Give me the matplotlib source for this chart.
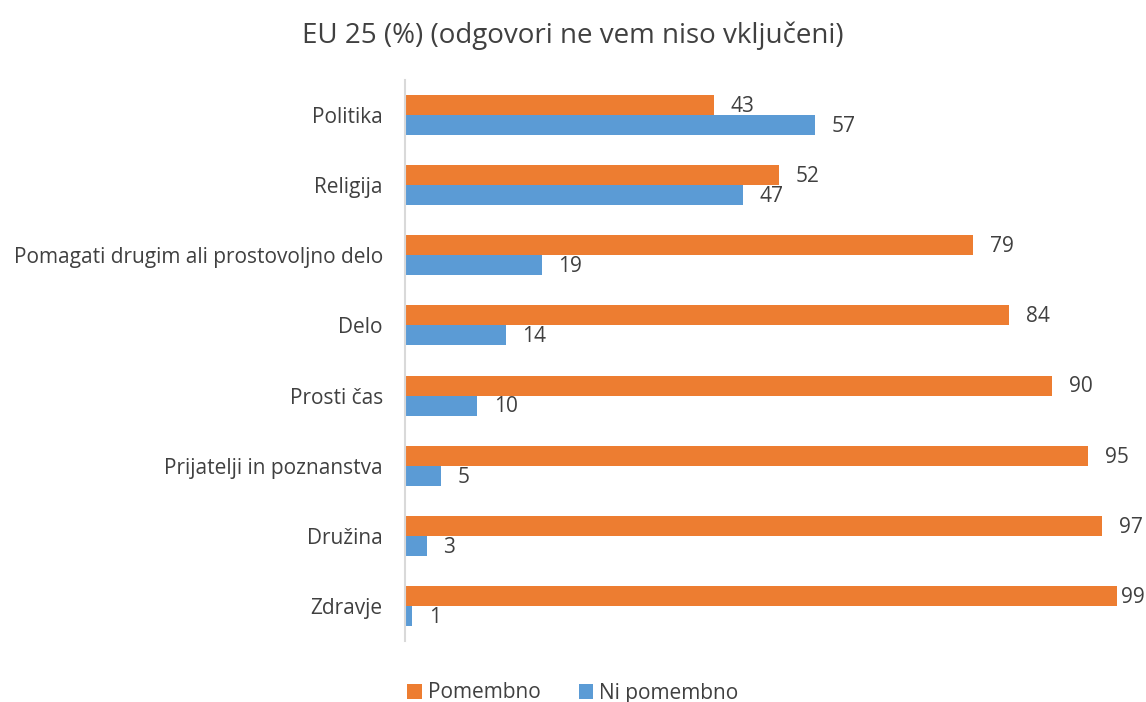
import matplotlib.pyplot as plt
import numpy as np

plt.rcParams['font.family'] = ['Open Sans', 'DejaVu Sans']

categories = ["Politika", "Religija", "Pomagati drugim ali prostovoljno delo", "Delo",
              "Prosti čas", "Prijatelji in poznanstva", "Družina", "Zdravje"]
pomembno = [43, 52, 79, 84, 90, 95, 97, 99]
ni_pomembno = [57, 47, 19, 14, 10, 5, 3, 1]

orange = "#ED7D31"
blue = "#5B9BD5"
text_c = "#404040"

fig = plt.figure(figsize=(11.46, 7.02), dpi=100)
ax = fig.add_axes([405 / 1146, 1 - 641 / 702, (1124 - 405) / 1146, (641 - 80) / 702])

y = np.arange(len(categories))
h = 0.285
b1 = ax.barh(y - h / 2, pomembno, height=h, color=orange, label="Pomembno")
b2 = ax.barh(y + h / 2, ni_pomembno, height=h, color=blue, label="Ni pomembno")

for bars, vals in ((b1, pomembno), (b2, ni_pomembno)):
    for bar, v in zip(bars, vals):
        off = 12 if v < 98 else 3  # last label sits against the edge
        ax.annotate(str(v), (bar.get_width(), bar.get_y() + bar.get_height() / 2),
                    xytext=(off, -1), textcoords="offset points", va="center", ha="left",
                    fontsize=15, color=text_c)

ax.set_xlim(0, 100)
ax.set_ylim(len(categories) - 0.5, -0.5)
ax.set_yticks(y)
ax.set_yticklabels(categories, fontsize=15, color=text_c)
ax.set_xticks([])
ax.tick_params(axis="y", length=0, pad=16)
for s in ["top", "right", "bottom"]:
    ax.spines[s].set_visible(False)
ax.spines["left"].set_color("#D9D9D9")
ax.spines["left"].set_linewidth(1.5)

fig.text(0.5, 1 - 36 / 702, "EU 25 (%) (odgovori ne vem niso vključeni)", ha="center",
         va="center", fontsize=20, color=text_c)

fig.legend(loc="center", bbox_to_anchor=(0.5, 1 - 693 / 702), ncol=2, frameon=False,
           fontsize=15, handlelength=0.7, handleheight=0.7, handletextpad=0.3,
           columnspacing=1.8, labelcolor=text_c)

fig.savefig("out.png", dpi=100)
